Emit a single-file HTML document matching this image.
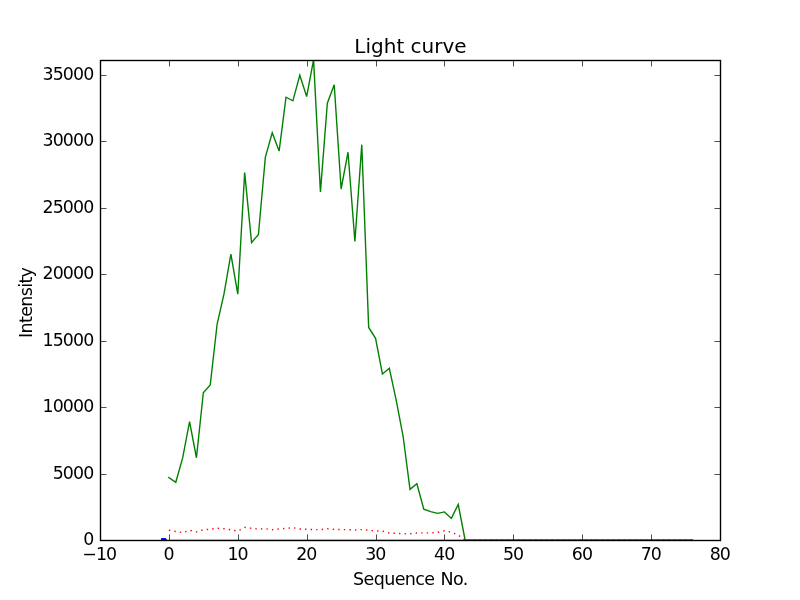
<!DOCTYPE html>
<html><head><meta charset="utf-8"><title>Light curve</title>
<style>
html,body{margin:0;padding:0;background:#fff;}
body{width:800px;height:600px;overflow:hidden;}
svg{display:block;}
text{font-family:"DejaVu Sans","Liberation Sans",sans-serif;fill:#000;}
</style></head>
<body>
<svg width="800" height="600" viewBox="0 0 800 600">
<rect x="0" y="0" width="800" height="600" fill="#ffffff"/>
<defs><clipPath id="ax"><rect x="100" y="60" width="620" height="480"/></clipPath></defs>
<g clip-path="url(#ax)" fill="none" stroke-linejoin="miter" stroke-miterlimit="4" stroke-linecap="butt">
<polygon points="161,540.5 161.2,538.1 165.7,538.1 167.6,540.5" fill="#0000ff" stroke="none"/>
<rect x="169" y="539" width="296" height="1" fill="#ff0000" fill-opacity="0.2" stroke="none"/>
<polyline points="168.89,477.56 175.78,482.30 182.67,457.94 189.56,421.55 196.44,457.75 203.33,392.80 210.22,385.00 217.11,324.25 224.00,293.95 230.89,254.24 237.78,294.20 244.67,172.59 251.56,242.61 258.44,234.50 265.33,157.41 272.22,132.75 279.11,151.05 286.00,97.24 292.89,100.83 299.78,75.22 306.67,96.51 313.56,59.74 320.44,191.99 327.33,103.23 334.22,84.79 341.11,189.00 348.00,152.23 354.89,241.53 361.78,144.67 368.67,327.47 375.56,338.31 382.44,374.02 389.33,368.30 396.22,400.35 403.11,436.26 410.00,489.39 416.89,483.79 423.78,509.14 430.67,511.60 437.56,513.40 444.44,511.94 451.33,518.39 458.22,504.44 465.11,540.00 472.00,540.00 478.89,540.00 485.78,540.00 492.67,540.00 499.56,540.00 506.44,540.00 513.33,540.00 520.22,540.00 527.11,540.00 534.00,540.00 540.89,540.00 547.78,540.00 554.67,540.00 561.56,540.00 568.44,540.00 575.33,540.00 582.22,540.00 589.11,540.00 596.00,540.00 602.89,540.00 609.78,540.00 616.67,540.00 623.56,540.00 630.44,540.00 637.33,540.00 644.22,540.00 651.11,540.00 658.00,540.00 664.89,540.00 671.78,540.00 678.67,540.00 685.56,540.00 692.44,540.00" stroke="#008000" stroke-width="1.39" stroke-linecap="square"/>
<polyline points="168.89,530.25 175.78,531.49 182.67,532.62 189.56,530.26 196.44,531.82 203.33,529.80 210.22,529.29 217.11,528.27 224.00,528.75 230.89,529.89 237.78,531.16 244.67,527.42 251.56,528.35 258.44,529.09 265.33,528.75 272.22,529.76 279.11,529.00 286.00,528.30 292.89,527.70 299.78,529.00 306.67,529.29 313.56,529.60 320.44,529.60 327.33,528.75 334.22,529.40 341.11,529.55 348.00,529.69 354.89,530.00 361.78,529.60 368.67,530.29 375.56,531.00 382.44,531.09 389.33,533.00 396.22,533.30 403.11,533.90 410.00,533.70 416.89,533.00 423.78,532.80 430.67,533.00 437.56,532.35 444.44,530.80 451.33,532.21 458.22,535.11 465.11,540.00" stroke="#ff0000" stroke-width="1.39" stroke-dasharray="1.39 4.166"/>
<line x1="465.11" y1="540" x2="692.44" y2="540" stroke="#ff0000" stroke-width="1.39" stroke-dasharray="1.39 4.166" stroke-dashoffset="2.37"/>
</g>
<g stroke="#000" stroke-width="0.69" fill="none">
<line x1="100.5" y1="540" x2="100.5" y2="534.44"/>
<line x1="100.5" y1="60" x2="100.5" y2="66.50"/>
<line x1="169.5" y1="540" x2="169.5" y2="534.44"/>
<line x1="169.5" y1="60" x2="169.5" y2="66.50"/>
<line x1="238.5" y1="540" x2="238.5" y2="534.44"/>
<line x1="238.5" y1="60" x2="238.5" y2="66.50"/>
<line x1="307.5" y1="540" x2="307.5" y2="534.44"/>
<line x1="307.5" y1="60" x2="307.5" y2="66.50"/>
<line x1="376.5" y1="540" x2="376.5" y2="534.44"/>
<line x1="376.5" y1="60" x2="376.5" y2="66.50"/>
<line x1="444.5" y1="540" x2="444.5" y2="534.44"/>
<line x1="444.5" y1="60" x2="444.5" y2="66.50"/>
<line x1="513.5" y1="540" x2="513.5" y2="534.44"/>
<line x1="513.5" y1="60" x2="513.5" y2="66.50"/>
<line x1="582.5" y1="540" x2="582.5" y2="534.44"/>
<line x1="582.5" y1="60" x2="582.5" y2="66.50"/>
<line x1="651.5" y1="540" x2="651.5" y2="534.44"/>
<line x1="651.5" y1="60" x2="651.5" y2="66.50"/>
<line x1="720.5" y1="540" x2="720.5" y2="534.44"/>
<line x1="720.5" y1="60" x2="720.5" y2="66.50"/>
<line x1="100" y1="540.5" x2="106.50" y2="540.5"/>
<line x1="720" y1="540.5" x2="714.44" y2="540.5"/>
<line x1="100" y1="474.5" x2="106.50" y2="474.5"/>
<line x1="720" y1="474.5" x2="714.44" y2="474.5"/>
<line x1="100" y1="407.5" x2="106.50" y2="407.5"/>
<line x1="720" y1="407.5" x2="714.44" y2="407.5"/>
<line x1="100" y1="341.5" x2="106.50" y2="341.5"/>
<line x1="720" y1="341.5" x2="714.44" y2="341.5"/>
<line x1="100" y1="274.5" x2="106.50" y2="274.5"/>
<line x1="720" y1="274.5" x2="714.44" y2="274.5"/>
<line x1="100" y1="208.5" x2="106.50" y2="208.5"/>
<line x1="720" y1="208.5" x2="714.44" y2="208.5"/>
<line x1="100" y1="141.5" x2="106.50" y2="141.5"/>
<line x1="720" y1="141.5" x2="714.44" y2="141.5"/>
<line x1="100" y1="75.5" x2="106.50" y2="75.5"/>
<line x1="720" y1="75.5" x2="714.44" y2="75.5"/>
</g>
<rect x="100.5" y="60.5" width="620" height="480" fill="none" stroke="#000" stroke-width="1.39"/>
<g font-size="17.4px" letter-spacing="-0.7">
<text x="99.20" y="559.90" text-anchor="middle" letter-spacing="-1">−10</text>
<text x="168.59" y="559.90" text-anchor="middle" letter-spacing="-1">0</text>
<text x="237.48" y="559.90" text-anchor="middle" letter-spacing="-1">10</text>
<text x="306.37" y="559.90" text-anchor="middle" letter-spacing="-1">20</text>
<text x="375.26" y="559.90" text-anchor="middle" letter-spacing="-1">30</text>
<text x="444.14" y="559.90" text-anchor="middle" letter-spacing="-1">40</text>
<text x="513.03" y="559.90" text-anchor="middle" letter-spacing="-1">50</text>
<text x="581.92" y="559.90" text-anchor="middle" letter-spacing="-1">60</text>
<text x="650.81" y="559.90" text-anchor="middle" letter-spacing="-1">70</text>
<text x="719.70" y="559.90" text-anchor="middle" letter-spacing="-1">80</text>
<text x="93.5" y="544.90" text-anchor="end" letter-spacing="-0.85">0</text>
<text x="93.5" y="478.90" text-anchor="end" letter-spacing="-0.85">5000</text>
<text x="93.5" y="411.90" text-anchor="end" letter-spacing="-0.85">10000</text>
<text x="93.5" y="345.90" text-anchor="end" letter-spacing="-0.85">15000</text>
<text x="93.5" y="278.90" text-anchor="end" letter-spacing="-0.85">20000</text>
<text x="93.5" y="212.90" text-anchor="end" letter-spacing="-0.85">25000</text>
<text x="93.5" y="145.90" text-anchor="end" letter-spacing="-0.85">30000</text>
<text x="93.5" y="79.90" text-anchor="end" letter-spacing="-0.85">35000</text>
</g>
<g font-size="17.5px">
<text x="353.0" y="584.9" letter-spacing="-0.6" word-spacing="1">Sequence No.</text>
<text transform="translate(32.2,338.0) rotate(-90)" letter-spacing="-0.65">Intensity</text>
</g>
<text x="410.5" y="53" text-anchor="middle" font-size="20px">Light curve</text>
</svg>
</body></html>
